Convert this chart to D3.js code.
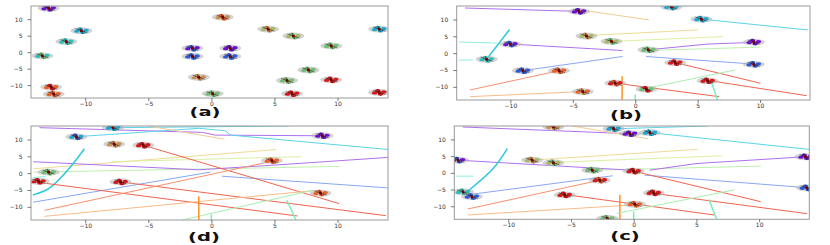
<!DOCTYPE html>
<html>
<head>
<meta charset="utf-8">
<script src="https://cdn.jsdelivr.net/npm/d3@7"></script>
<style>
  html, body { margin: 0; padding: 0; background: #fff; }
  svg { display: block; }
  .tick text { font-family: "DejaVu Sans", sans-serif; font-size: 6px; fill: #333; }
  .tick line { stroke: #444; stroke-width: 0.7; }
  .panel-label { font-family: "DejaVu Sans", sans-serif; font-weight: bold; font-size: 11.5px; fill: #111; }
</style>
</head>
<body>
<svg id="chart" width="830" height="245"></svg>
<script>
// ---- data ----
const xTicks = [-10, -5, 0, 5, 10];
const yTicks = [-10, -5, 0, 5, 10];
const xDomain = [-14.3, 14.0];
const yDomain = [-13.9, 14.0];

// glyph: [x, y, colour1, colour2]
const glyphsA = [
  [-12.9, 13.3, 'purple', 'purple'], [0.9, 10.6, 'tan', 'orange'], [-10.3, 6.5, 'cyan', 'cyan'],
  [-11.5, 3.2, 'teal', 'teal'], [-13.4, -1.1, 'teal', 'green'], [4.5, 7.0, 'olive', 'tan'],
  [6.5, 4.9, 'olive', 'green'], [13.3, 7.0, 'cyan', 'cyan'], [9.5, 1.9, 'green', 'green'],
  [-1.5, 1.2, 'purple', 'blue'], [1.5, 1.2, 'purple', 'purple'], [-1.5, -1.3, 'blue', 'blue'],
  [1.5, -1.3, 'blue', 'blue'], [7.7, -5.4, 'green', 'green'], [-1.0, -7.6, 'tan', 'tan'],
  [6.0, -8.6, 'green', 'green'], [9.5, -8.4, 'red', 'red'], [-12.7, -10.6, 'orange', 'red'],
  [-12.5, -12.7, 'orange', 'orange'], [0.1, -12.6, 'green', 'green'], [6.4, -12.6, 'red', 'red'],
  [13.3, -12.2, 'red', 'red']
];
const glyphsB = [
  [-4.5, 12.4, 'purple', 'purple'], [2.9, 13.7, 'cyan', 'cyan'], [5.3, 10.1, 'cyan', 'cyan'],
  [-3.9, 5.1, 'olive', 'tan'], [-1.9, 3.5, 'olive', 'green'], [-10.0, 2.7, 'purple', 'blue'],
  [-11.9, -1.8, 'teal', 'teal'], [1.05, 1.0, 'green', 'green'], [9.5, 3.3, 'purple', 'purple'],
  [3.2, -2.8, 'red', 'red'], [9.5, -3.3, 'blue', 'blue'], [-9.0, -5.2, 'blue', 'blue'],
  [-6.1, -5.2, 'orange', 'orange'], [-1.6, -8.9, 'red', 'orange'], [5.8, -8.2, 'red', 'red'],
  [0.9, -10.7, 'green', 'red'], [-4.2, -11.4, 'orange', 'tan']
];
const glyphsC = [
  [-6.4, 13.7, 'tan', 'tan'], [-1.6, 13.2, 'cyan', 'cyan'], [-0.3, 11.7, 'purple', 'purple'],
  [1.3, 12.0, 'cyan', 'cyan'], [-8.1, 3.8, 'olive', 'tan'], [-6.4, 3.0, 'olive', 'green'],
  [-3.3, 0.8, 'green', 'green'], [0.0, 0.5, 'red', 'red'], [13.7, 4.8, 'purple', 'purple'],
  [-14.0, 3.8, 'purple', 'blue'], [-2.7, -2.2, 'red', 'orange'], [-13.6, -5.7, 'teal', 'teal'],
  [-12.9, -7.1, 'blue', 'blue'], [-5.5, -6.6, 'red', 'red'], [1.6, -6.0, 'red', 'red'],
  [13.8, -4.5, 'blue', 'blue'], [0.1, -9.4, 'orange', 'orange'], [-2.1, -13.6, 'green', 'green']
];
const glyphsD = [
  [-7.8, 13.5, 'cyan', 'cyan'], [-10.7, 10.8, 'cyan', 'blue'], [-7.7, 8.6, 'tan', 'tan'],
  [-5.4, 8.3, 'red', 'red'], [8.8, 11.1, 'purple', 'purple'], [4.8, 3.7, 'orange', 'orange'],
  [-12.9, 0.3, 'green', 'green'], [-13.7, -2.4, 'red', 'red'], [-7.2, -2.6, 'red', 'red'],
  [8.65, -5.9, 'orange', 'orange']
];

// path: [colour, [[x, y], ...]]
const linesB = [
  ['lpurple', [[-13.6, 13.4], [-4.5, 12.4]]],
  ['yelOr', [[-4.5, 12.9], [1.05, 9.9]]],
  ['lcyan', [[2.9, 13.9], [5.8, 14.4]]],
  ['lcyan', [[5.3, 10.1], [13.8, 6.9]]],
  ['yellow', [[-4.0, 5.2], [5.0, 6.9]]],
  ['ygreen', [[-1.8, 3.5], [7.0, 4.9]]],
  ['lpurple', [[-10.0, 2.7], [-1.05, 0.8]]],
  ['lpurple', [[1.05, 1.0], [5.8, 2.7], [9.5, 3.2]]],
  ['lgreen', [[1.05, 0.8], [10.0, 1.8]]],
  ['pcyan', [[-14.1, 3.3], [-11.1, 3.0]]],
  ['pcyan', [[-14.1, -2.1], [-13.0, -2.0]]],
  ['cyanB', [[-11.9, -1.8], [-10.1, 6.9]]],
  ['lblue', [[-9.0, -5.2], [-1.05, -1.0]]],
  ['lblue', [[0.9, -1.0], [9.75, -3.3]]],
  ['lred', [[3.2, -2.8], [10.0, -8.9]]],
  ['lred', [[5.5, -7.9], [13.7, -12.6]]],
  ['lred', [[-1.6, -8.9], [6.7, -12.9]]],
  ['salmon', [[-13.2, -10.9], [-6.1, -5.2]]],
  ['orangeL', [[-13.2, -12.9], [-4.2, -11.4]]],
  ['orangeV', [[-1.05, -7.0], [-1.05, -14.0]]],
  ['lgreen2', [[0.5, -10.7], [8.0, -5.0]]],
  ['mint', [[6.1, -8.5], [6.6, -14.0]]],
  ['mint', [[0.0, -12.4], [0.0, -14.0]]]
];
const linesC = [
  ['lpurple', [[-13.6, 13.7], [-0.3, 11.7]]],
  ['yelOr', [[-4.9, 14.0], [1.1, 10.2]]],
  ['lcyan', [[-1.3, 13.2], [5.85, 14.0]]],
  ['lcyan', [[1.3, 12.0], [14.0, 7.0]]],
  ['yellow', [[-8.1, 3.8], [5.05, 7.0]]],
  ['ygreen', [[-6.4, 3.1], [7.0, 5.1]]],
  ['lgreen', [[-3.3, 0.8], [10.1, 2.0]]],
  ['lpurple', [[-14.1, 3.8], [-0.3, 0.8]]],
  ['lpurple', [[1.3, 0.8], [5.05, 2.8], [13.7, 4.8]]],
  ['pcyan', [[-14.1, -1.0], [-12.8, -1.0]]],
  ['cyanB', [[-10.1, 7.1], [-11.2, 1.3], [-13.3, -5.7]]],
  ['lblue', [[-13.3, -6.6], [-1.7, -0.9]]],
  ['lblue', [[0.9, -0.7], [14.0, -4.5]]],
  ['lred', [[0.0, 0.5], [10.1, -8.6]]],
  ['lred', [[1.3, -6.0], [13.8, -12.2]]],
  ['lred', [[-5.3, -6.6], [6.4, -12.6]]],
  ['salmon', [[-13.2, -10.8], [-2.7, -2.2]]],
  ['orangeL', [[-13.2, -12.6], [0.0, -9.6]]],
  ['orangeV', [[-1.1, -6.8], [-1.1, -14.1]]],
  ['lgreen2', [[-1.3, -12.1], [8.0, -5.1]]],
  ['mint', [[6.0, -8.1], [6.65, -14.1]]],
  ['mint', [[0.0, -11.7], [0.0, -14.0]]]
];
const linesD = [
  ['lpurple', [[-13.6, 13.5], [-0.7, 12.1], [0.3, 11.3], [8.8, 11.1]]],
  ['lcyan', [[-10.0, 11.0], [-1.0, 13.3], [1.1, 12.6], [1.5, 11.3], [14.1, 7.0]]],
  ['lcyan', [[-7.8, 13.5], [6.1, 14.0]]],
  ['yelOr', [[-5.0, 14.0], [1.0, 10.1]]],
  ['yellow', [[-14.1, 1.3], [5.1, 7.0]]],
  ['ygreen', [[-7.9, 3.4], [7.1, 4.9]]],
  ['lgreen', [[-14.1, 0.3], [10.1, 2.0]]],
  ['lpurple', [[-14.1, 3.4], [-1.0, 1.0], [4.6, 2.3], [14.1, 4.7]]],
  ['cyanB', [[-10.1, 7.1], [-11.3, 1.3], [-12.9, -4.6], [-14.1, -6.4]]],
  ['pcyan', [[-14.1, -1.3], [-13.2, -1.0]]],
  ['lblue', [[-14.1, -8.6], [-0.1, 0.3]]],
  ['lblue', [[0.85, -0.9], [14.1, -4.4]]],
  ['lred', [[-14.0, -2.6], [6.8, -12.7]]],
  ['lred', [[-7.2, -2.6], [13.8, -12.6]]],
  ['lred', [[-5.4, 8.3], [10.1, -9.0]]],
  ['salmon', [[-13.2, -11.0], [5.0, 3.7]]],
  ['orangeL', [[-13.2, -12.8], [8.3, -5.1]]],
  ['lgreen2', [[-2.3, -13.9], [8.0, -5.1]]],
  ['mint', [[6.0, -8.2], [6.7, -13.9]]],
  ['orangeV', [[-1.0, -7.1], [-1.0, -13.9]]],
  ['mint', [[0.0, -12.4], [0.0, -13.9]]]
];

// ---- styles ----
const glyphColor = {
  purple: '#6a10d0', cyan: '#1aa8d0', teal: '#28c0b8', green: '#6cc070',
  olive: '#a8b860', tan: '#c89050', orange: '#e8602a', red: '#d81818', blue: '#2a5ad8'
};
const lineStyle = {
  lpurple: ['#b070f0', 1], yelOr: ['#f2cc94', 1], lcyan: ['#5cd4e8', 1], cyanB: ['#2ec8dc', 1.5],
  yellow: ['#f0dc94', 1], ygreen: ['#dcf0a4', 1], lgreen: ['#c0f0b0', 1], pcyan: ['#8ef0e0', 1],
  lblue: ['#88a8f0', 1], lred: ['#f06450', 1], salmon: ['#f89070', 1], orangeL: ['#f8bc88', 1],
  orangeV: ['#ff9020', 1.5], lgreen2: ['#a8f0b0', 1], mint: ['#78f0b8', 1.5]
};

const panels = [
  { id: 'a', label: '(a)', box: [31, 6, 388, 98], labelPos: [205, 116], glyphs: glyphsA, lines: [] },
  { id: 'b', label: '(b)', box: [456.7, 6, 810, 100], labelPos: [626, 119], glyphs: glyphsB, lines: linesB },
  { id: 'd', label: '(d)', box: [31, 126, 388, 220], labelPos: [204, 240.5], glyphs: glyphsD, lines: linesD },
  { id: 'c', label: '(c)', box: [454.3, 126, 809.3, 219.3], labelPos: [625, 240], glyphs: glyphsC, lines: linesC }
];

const svg = d3.select('#chart');

// small molecule-like marker: grey halo, four lobes, dark core
function drawGlyph(g, d) {
  const [, , c1, c2] = d;
  g.append('ellipse').attr('rx', 11).attr('ry', 3.4)
    .attr('fill', '#b4b4b4').attr('opacity', 0.6);
  const lobes = [[-4.6, 0.5, c1], [4.6, -0.5, c1], [-1.4, -1.7, c2], [1.4, 1.7, c2]];
  for (const [dx, dy, c] of lobes) {
    g.append('ellipse').attr('cx', dx).attr('cy', dy).attr('rx', 2.8).attr('ry', 1.6)
      .attr('fill', glyphColor[c]);
  }
  g.append('line').attr('x1', -6).attr('y1', -2).attr('x2', 6).attr('y2', 2)
    .attr('stroke', '#222').attr('stroke-width', 0.6);
  g.append('line').attr('x1', -1.5).attr('y1', -3.2).attr('x2', 1.5).attr('y2', 3.2)
    .attr('stroke', '#222').attr('stroke-width', 0.6);
  g.append('circle').attr('r', 1.6).attr('fill', '#7a0000');
}

for (const p of panels) {
  const [x0, y0, x1, y1] = p.box;
  const x = d3.scaleLinear().domain(xDomain).range([x0, x1]);
  const y = d3.scaleLinear().domain(yDomain).range([y1, y0]);

  svg.append('clipPath').attr('id', 'clip-' + p.id)
    .append('rect').attr('x', x0).attr('y', y0).attr('width', x1 - x0).attr('height', y1 - y0);

  const plot = svg.append('g').attr('clip-path', `url(#clip-${p.id})`);

  const line = d3.line().x(d => x(d[0])).y(d => y(d[1]));
  const curved = d3.line().x(d => x(d[0])).y(d => y(d[1])).curve(d3.curveCatmullRom);

  plot.selectAll('path.traj').data(p.lines).enter()
    .append('path').attr('class', 'traj')
    .attr('d', d => (d[0] === 'cyanB' ? curved : line)(d[1]))
    .attr('fill', 'none')
    .attr('stroke', d => lineStyle[d[0]][0])
    .attr('stroke-width', d => lineStyle[d[0]][1])
    .attr('stroke-linecap', 'round');

  plot.selectAll('g.glyph').data(p.glyphs).enter()
    .append('g').attr('class', 'glyph')
    .attr('transform', d => `translate(${x(d[0])},${y(d[1])})`)
    .each(function(d) { drawGlyph(d3.select(this), d); });

  svg.append('rect').attr('x', x0).attr('y', y0).attr('width', x1 - x0).attr('height', y1 - y0)
    .attr('fill', 'none').attr('stroke', '#9a9a9a').attr('stroke-width', 1);

  svg.append('g').attr('transform', `translate(0,${y1})`)
    .call(d3.axisBottom(x).tickValues(xTicks).tickSize(3).tickPadding(0.5))
    .call(g => g.select('.domain').remove());
  svg.append('g').attr('transform', `translate(${x0},0)`)
    .call(d3.axisLeft(y).tickValues(yTicks).tickSize(3.5).tickPadding(5))
    .call(g => g.select('.domain').remove());

  // wide, heavy sub-figure label
  svg.append('text').attr('class', 'panel-label')
    .attr('transform', `translate(${p.labelPos[0]},${p.labelPos[1]}) scale(1.7,1)`)
    .attr('text-anchor', 'middle').text(p.label);
}
</script>
</body>
</html>
